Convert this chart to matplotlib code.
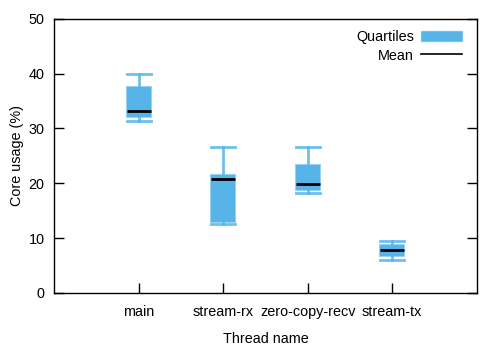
import matplotlib
matplotlib.use('Agg')
from matplotlib import pyplot as plt
from matplotlib.patches import Patch
from matplotlib.lines import Line2D

plt.rcParams['font.family'] = ['Liberation Sans', 'DejaVu Sans']
plt.rcParams['font.size'] = 10.4

threads = ['main', 'stream-rx', 'zero-copy-recv', 'stream-tx']
whisker_low = [31.3, 12.5, 18.2, 6.1]
q1 = [32.1, 12.9, 18.85, 6.7]
mean = [33.2, 20.7, 19.9, 7.9]
q3 = [37.5, 21.5, 23.3, 8.8]
whisker_high = [40.0, 26.7, 26.7, 9.45]

blue = '#56b4e9'
blue_edge = (0.34, 0.71, 0.91, 0.6)

fig = plt.figure(figsize=(5, 3.5), dpi=100)
ax = fig.add_axes([0.1086, 0.1629, 0.8448, 0.7837])

stats = []
for i, name in enumerate(threads):
    stats.append({'label': name, 'whislo': whisker_low[i], 'q1': q1[i],
                  'med': mean[i], 'q3': q3[i], 'whishi': whisker_high[i],
                  'fliers': []})

positions = range(1, len(threads) + 1)
ax.bxp(stats, positions=positions, widths=0.28, patch_artist=True,
       showfliers=False,
       boxprops=dict(facecolor=blue, edgecolor=blue_edge, linewidth=1.5),
       whiskerprops=dict(color=blue, linewidth=2, alpha=0.85),
       capprops=dict(color=blue, linewidth=2, alpha=0.85),
       medianprops=dict(color='black', linewidth=2),
       capwidths=0.28)

ax.set_xlim(0, 5)
ax.set_ylim(0, 50)
ax.set_yticks([0, 10, 20, 30, 40, 50])
ax.set_xticks(list(positions))
ax.set_xticklabels(threads)
ax.tick_params(axis='y', direction='in', length=7, right=True, width=1, pad=7)
ax.tick_params(axis='x', direction='in', length=7, width=1, pad=9)
for s in ax.spines.values():
    s.set_linewidth(1)

ax.set_xlabel('Thread name', labelpad=9)
ax.set_ylabel('Core usage (%)', labelpad=3)

handles = [Patch(facecolor=blue, edgecolor=blue_edge),
           Line2D([0], [0], color='black', linewidth=1.2)]
ax.legend(handles, ['Quartiles', 'Mean'], loc='upper right', frameon=False,
          markerfirst=False, handlelength=2.8, handleheight=0.7,
          bbox_to_anchor=(0.988, 0.995), borderaxespad=0.3,
          labelspacing=0.3, handletextpad=0.5)

fig.savefig('out.png', dpi=100)
